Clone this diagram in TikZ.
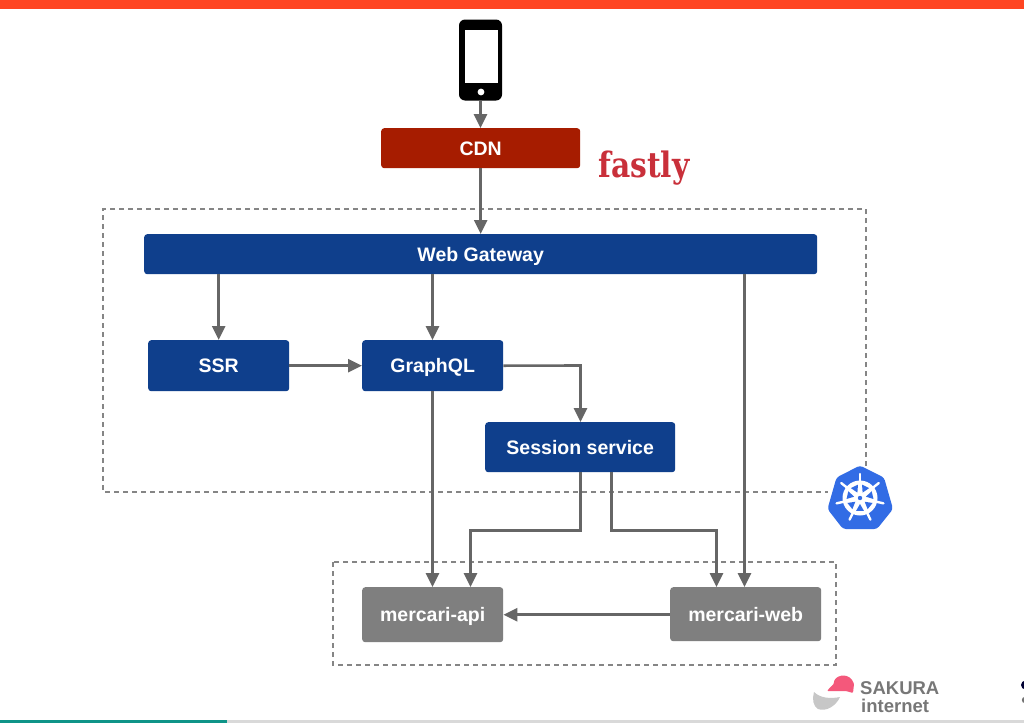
\documentclass[tikz,border=0pt]{standalone}
\usepackage{fontspec}
\setmainfont{Liberation Sans}
\newfontfamily\slabfont{DejaVu Serif}
\usetikzlibrary{arrows.meta,calc}
\definecolor{navy}{HTML}{0F3F8C}
\definecolor{cdnred}{HTML}{A61C00}
\definecolor{conn}{HTML}{666666}
\definecolor{boxgrey}{HTML}{7F7F7F}
\definecolor{topbar}{HTML}{FF4522}
\definecolor{kube}{HTML}{326CE5}
\definecolor{fastlyred}{HTML}{C9303A}
\definecolor{sakurared}{HTML}{F4587B}
\definecolor{tealbar}{HTML}{0E9488}
\definecolor{logotext}{HTML}{777777}
\tikzset{
  box/.style={rounded corners=3pt,text=white,font=\fontsize{19.5}{22}\selectfont\bfseries,inner sep=0pt,text height=18pt,text depth=4pt,anchor=north west},
  bluebox/.style={box,fill=navy},
  redbox/.style={box,fill=cdnred},
  greybox/.style={box,fill=boxgrey},
  flow/.style={draw=conn,line width=2.6pt,-{Triangle[length=14pt,width=13pt]}},
  zone/.style={draw=conn!80,line width=1.2pt,dash pattern=on 5pt off 4pt},
  spoke/.style={draw=white,line width=2.4pt,line cap=round}
}
\begin{document}
\begin{tikzpicture}[x=1pt,y=-1pt]
\useasboundingbox (0,0) rectangle (1024,723);
\fill[white] (0,0) rectangle (1024,723);
\fill[topbar] (0,0) rectangle (1024,9);
\fill[black!15] (227,720) rectangle (1024,723);
\fill[tealbar] (0,720) rectangle (227,723);
% zones
\draw[zone] (866,466) -- (866,209) -- (103,209) -- (103,492) -- (828,492);
\draw[zone] (333,562) rectangle (836,665);
% phone
\node[minimum width=43pt,minimum height=81pt,fill=black,rounded corners=6pt,inner sep=0pt] (phone) at (480.5,60) {};
\fill[white] (464.5,30) rectangle (498,83);
\fill[white] (481,92) circle (3.4pt);
% boxes
\node[redbox,minimum width=199pt,minimum height=40pt] (cdn) at (381,128) {CDN};
\node[bluebox,minimum width=673pt,minimum height=40pt] (gw) at (144,234) {Web Gateway};
\node[bluebox,minimum width=141pt,minimum height=51pt] (ssr) at (148,340) {SSR};
\node[bluebox,minimum width=141pt,minimum height=51pt] (gql) at (362,340) {GraphQL};
\node[bluebox,minimum width=190pt,minimum height=50pt] (sess) at (485,422) {Session service};
\node[greybox,minimum width=141pt,minimum height=55pt] (api) at (362,587) {mercari-api};
\node[greybox,minimum width=151pt,minimum height=54pt] (web) at (670,587) {mercari-web};
% helper coordinates
\coordinate (gwA) at (ssr.north |- gw.south);
\coordinate (gwB) at (432.5,274);
\coordinate (gqlN) at (432.5,340);
\coordinate (gqlS) at (432.5,391);
\coordinate (apiN) at (432.5,587);
\coordinate (gwC) at (744.5,274);
\coordinate (webN) at (744.5,587);
\coordinate (s1) at (580.5,472);
\coordinate (s1a) at (580.5,530.5);
\coordinate (a2a) at (470.5,530.5);
\coordinate (a2) at (470.5,587);
\coordinate (s2) at (611.5,472);
\coordinate (s2a) at (611.5,530.5);
\coordinate (w2a) at (716.5,530.5);
\coordinate (w2) at (716.5,587);
\coordinate (g1) at (580.5,365.5);
% connectors
\draw[flow] (phone.south) -- (cdn.north -| phone.south);
\draw[flow] (cdn.south) -- (gw.north -| cdn.south);
\draw[flow] (gwA) -- (ssr.north);
\draw[flow] (gwB) -- (gqlN);
\draw[flow] (gwC) -- (webN);
\draw[flow] (ssr.east) -- (gql.west);
\draw[flow] (gql.east) -- (g1) -- (sess.north -| g1);
\draw[flow] (gqlS) -- (apiN);
\draw[flow] (s1) -- (s1a) -- (a2a) -- (a2);
\draw[flow] (s2) -- (s2a) -- (w2a) -- (w2);
\draw[flow] (web.west |- api.east) -- (api.east);
% fastly
\node[text=fastlyred,font=\slabfont\fontsize{35}{36}\selectfont\bfseries,inner sep=0pt,anchor=base] (fastly) at (644,177) {\scalebox{0.85}[1]{fastly}};
% kubernetes
\fill[kube,rounded corners=3pt] (860,465.5) -- (884,477.5) -- (893,509) -- (877,529) -- (843,529) -- (827.5,509) -- (836.5,477.5) -- cycle;
\fill[white] (860,498) circle (17.5pt);
\foreach \a in {90,141.43,192.86,244.29,295.71,347.14,38.57}{
  \draw[spoke] (860,498) -- ++(\a:24pt);
  \fill[kube] ($(860,498)+(\a+25.7-17:13.5pt)$) -- ($(860,498)+(\a+25.7+17:13.5pt)$) -- ($(860,498)+(\a+25.7:6pt)$) -- cycle;
}
\fill[kube] (860,498) circle (2.2pt);
% sakura
\fill[sakurared,rounded corners=1pt] (827,691) .. controls (831,686) and (834,685) .. (834,681) .. controls (838,674) and (850,673) .. (854,684) -- (853,693) -- (846,691) -- cycle;
\fill[black!22] (814,692) .. controls (820,698) and (830,699) .. (840,697) .. controls (836,706) and (826,712) .. (818,709) .. controls (813,706) and (812,699) .. (814,692) -- cycle;
\node[text=logotext,font=\fontsize{18.5}{19}\selectfont\bfseries,inner sep=0pt,anchor=base west] (sak) at (860,694) {SAKURA};
\node[text=logotext,font=\fontsize{18.5}{19}\selectfont\bfseries,inner sep=0pt,anchor=base west] (int) at (861,712) {internet};
\begin{scope}
\clip (1000,660) rectangle (1024,723);
\fill[black!80!blue] (1025.5,685) circle (4.5pt);
\fill[black!55] (1025,700) circle (3.2pt);
\end{scope}
\end{tikzpicture}
\end{document}
